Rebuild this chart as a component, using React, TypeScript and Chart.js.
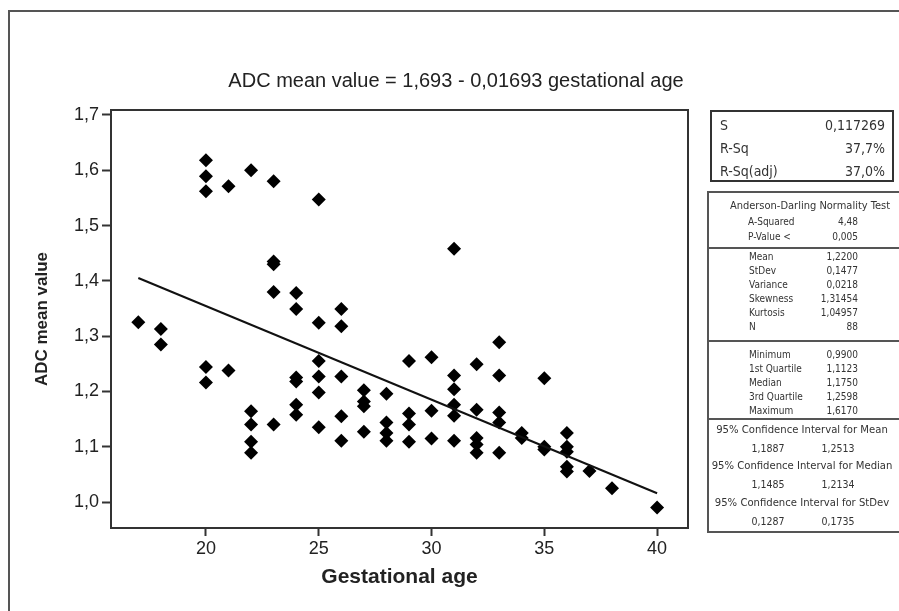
import React, { useEffect, useRef } from "react";
import { Chart, registerables } from "chart.js";

Chart.register(...registerables);

// ---- Data ----
const gestationalAge: number[] = [
  17,
  18, 18,
  20, 20, 20, 20, 20,
  21, 21,
  22, 22, 22, 22, 22,
  23, 23, 23, 23, 23,
  24, 24, 24, 24, 24, 24,
  25, 25, 25, 25, 25, 25,
  26, 26, 26, 26, 26,
  27, 27, 27, 27,
  28, 28, 28, 28,
  29, 29, 29, 29,
  30, 30, 30,
  31, 31, 31, 31, 31, 31,
  32, 32, 32, 32, 32,
  33, 33, 33, 33, 33,
  34, 34,
  35, 35, 35,
  36, 36, 36, 36, 36,
  37,
  38,
  40,
];

const adcMeanValue: number[] = [
  1.325,
  1.313, 1.285,
  1.618, 1.589, 1.562, 1.244, 1.216,
  1.571, 1.238,
  1.6, 1.164, 1.14, 1.109, 1.089,
  1.58, 1.435, 1.43, 1.38, 1.14,
  1.378, 1.349, 1.225, 1.218, 1.176, 1.158,
  1.547, 1.324, 1.255, 1.227, 1.198, 1.135,
  1.349, 1.318, 1.227, 1.155, 1.111,
  1.202, 1.182, 1.173, 1.127,
  1.196, 1.144, 1.125, 1.111,
  1.255, 1.16, 1.14, 1.109,
  1.262, 1.165, 1.115,
  1.458, 1.229, 1.204, 1.176, 1.156, 1.111,
  1.249, 1.167, 1.116, 1.104, 1.089,
  1.289, 1.229, 1.162, 1.144, 1.089,
  1.125, 1.116,
  1.224, 1.1, 1.095,
  1.125, 1.1, 1.091, 1.064, 1.055,
  1.056,
  1.025,
  0.99,
];

const fitIntercept = 1.693;
const fitSlope = -0.01693;
const fitAgeRange: number[] = [17, 40];

const xTickValues: number[] = [20, 25, 30, 35, 40];
const yTickValues: number[] = [1.0, 1.1, 1.2, 1.3, 1.4, 1.5, 1.6, 1.7];

const chartTitle = "ADC mean value = 1,693 - 0,01693 gestational age";
const xAxisTitle = "Gestational age";
const yAxisTitle = "ADC mean value";

const summaryRows: [string, string][] = [
  ["S", "0,117269"],
  ["R-Sq", "37,7%"],
  ["R-Sq(adj)", "37,0%"],
];

const adTestRows: [string, string][] = [
  ["A-Squared", "4,48"],
  ["P-Value <", "0,005"],
];
const statRows: [string, string][] = [
  ["Mean", "1,2200"],
  ["StDev", "0,1477"],
  ["Variance", "0,0218"],
  ["Skewness", "1,31454"],
  ["Kurtosis", "1,04957"],
  ["N", "88"],
];
const quantileRows: [string, string][] = [
  ["Minimum", "0,9900"],
  ["1st Quartile", "1,1123"],
  ["Median", "1,1750"],
  ["3rd Quartile", "1,2598"],
  ["Maximum", "1,6170"],
];
const ciRows: [string, string, string][] = [
  ["95% Confidence Interval for Mean", "1,1887", "1,2513"],
  ["95% Confidence Interval for Median", "1,1485", "1,2134"],
  ["95% Confidence Interval for StDev", "0,1287", "0,1735"],
];

const W = 899;
const H = 611;
const AREA = { left: 111, top: 110, right: 688, bottom: 528 };
const FONT = '"Liberation Sans", Arial, sans-serif';
const STAT_FONT = '"DejaVu Sans Condensed", "DejaVu Sans", Verdana, sans-serif';

const fmt = (v: number) => v.toFixed(1).replace(".", ",");

const framePlugin = {
  id: "frameAndTitle",
  afterDraw(chart: any) {
    const { ctx, chartArea } = chart;
    ctx.save();
    ctx.strokeStyle = "#333";
    ctx.lineWidth = 2;
    ctx.strokeRect(
      chartArea.left,
      chartArea.top,
      chartArea.right - chartArea.left,
      chartArea.bottom - chartArea.top
    );
    ctx.fillStyle = "#222";
    ctx.font = `20px ${FONT}`;
    ctx.textAlign = "center";
    ctx.textBaseline = "middle";
    ctx.fillText(chartTitle, 456, 81);
    ctx.restore();
  },
};

function ChartCanvas() {
  const ref = useRef<HTMLCanvasElement | null>(null);
  useEffect(() => {
    if (!ref.current) return;
    const points = gestationalAge.map((x, i) => ({ x, y: adcMeanValue[i] }));
    const fitLine = fitAgeRange.map((x) => ({ x, y: fitIntercept + fitSlope * x }));
    const chart = new Chart(ref.current, {
      type: "scatter",
      data: {
        datasets: [
          {
            type: "line",
            data: fitLine,
            borderColor: "#111",
            borderWidth: 2,
            pointRadius: 0,
            showLine: true,
            fill: false,
          } as any,
          {
            data: points,
            pointStyle: "rectRot",
            pointRadius: 7,
            backgroundColor: "#000",
            borderColor: "#000",
            borderWidth: 0,
          },
        ],
      },
      plugins: [framePlugin],
      options: {
        animation: false,
        responsive: false,
        events: [],
        layout: { padding: { left: 0, top: AREA.top, right: W - AREA.right, bottom: 0 } },
        plugins: { legend: { display: false }, tooltip: { enabled: false }, title: { display: false } },
        scales: {
          x: {
            type: "linear",
            min: 15.79,
            max: 41.37,
            afterFit: (s: any) => {
              s.height = H - AREA.bottom;
            },
            afterBuildTicks: (s: any) => {
              s.ticks = xTickValues.map((value) => ({ value }));
            },
            ticks: {
              font: { family: FONT, size: 18 },
              color: "#222",
              padding: 2,
              callback: (v: any) => String(v),
            },
            grid: { drawOnChartArea: false, drawTicks: true, tickLength: 8, tickColor: "#333", tickWidth: 2 },
            border: { display: true, color: "#333", width: 2 },
            title: {
              display: true,
              text: xAxisTitle,
              font: { family: FONT, size: 21, weight: "bold" },
              color: "#222",
              padding: { top: 0, bottom: 21 },
            },
          },
          y: {
            type: "linear",
            min: 0.953,
            max: 1.709,
            afterFit: (s: any) => {
              s.width = AREA.left;
            },
            afterBuildTicks: (s: any) => {
              s.ticks = yTickValues.map((value) => ({ value }));
            },
            ticks: {
              font: { family: FONT, size: 18 },
              color: "#222",
              padding: 3,
              callback: (v: any) => fmt(Number(v)),
            },
            grid: { drawOnChartArea: false, drawTicks: true, tickLength: 9, tickColor: "#333", tickWidth: 2 },
            border: { display: true, color: "#333", width: 2 },
            title: {
              display: true,
              text: yAxisTitle,
              font: { family: FONT, size: 17, weight: "bold" },
              color: "#222",
              padding: { top: 32, bottom: 0 },
            },
          },
        },
      },
    });
    return () => chart.destroy();
  }, []);
  return <canvas ref={ref} width={W} height={H} style={{ position: "absolute", left: 0, top: 0 }} />;
}

const abs = (s: React.CSSProperties): React.CSSProperties => ({ position: "absolute", ...s });

function StatText({ x, y, text, align, size }: { x: number; y: number; text: string; align: "left" | "right" | "center"; size: number }) {
  const style: React.CSSProperties = {
    position: "absolute",
    top: y - size * 0.6,
    fontSize: size,
    lineHeight: `${size * 1.2}px`,
    whiteSpace: "nowrap",
    fontFamily: STAT_FONT,
    color: "#333",
  };
  if (align === "left") style.left = x;
  else if (align === "right") style.right = W - x;
  else {
    style.left = x - 200;
    style.width = 400;
    style.textAlign = "center";
  }
  return <div style={style}>{text}</div>;
}

export default function App() {
  const statsY0 = 257;
  const quantY0 = 355;
  const ciY = [430, 466, 503];
  const small = 10;
  const big = 11.2;
  return (
    <div style={abs({ left: 0, top: 0, width: W, height: H, overflow: "hidden", background: "#fff" })}>
      {/* outer frame */}
      <div style={abs({ left: 8, top: 10, width: W, height: H, borderLeft: "2px solid #555", borderTop: "2px solid #555" })} />
      <ChartCanvas />
      {/* summary box */}
      <div style={abs({ left: 710, top: 110, width: 180, height: 68, border: "2px solid #333" })} />
      {summaryRows.map(([k, v], i) => (
        <React.Fragment key={k}>
          <StatText x={720} y={125 + i * 23} text={k} align="left" size={14} />
          <StatText x={885} y={125 + i * 23} text={v} align="right" size={14} />
        </React.Fragment>
      ))}
      {/* descriptive statistics box */}
      <div style={abs({ left: 707, top: 191, width: 230, height: 338, border: "2px solid #555" })} />
      <div style={abs({ left: 708, top: 247, width: 230, height: 0, borderTop: "2px solid #555" })} />
      <div style={abs({ left: 708, top: 340, width: 230, height: 0, borderTop: "2px solid #555" })} />
      <div style={abs({ left: 708, top: 418, width: 230, height: 0, borderTop: "2px solid #555" })} />
      <StatText x={810} y={206} text="Anderson-Darling Normality Test" align="center" size={11} />
      {adTestRows.map(([k, v], i) => (
        <React.Fragment key={k}>
          <StatText x={748} y={222 + i * 15} text={k} align="left" size={small} />
          <StatText x={858} y={222 + i * 15} text={v} align="right" size={small} />
        </React.Fragment>
      ))}
      {statRows.map(([k, v], i) => (
        <React.Fragment key={k}>
          <StatText x={749} y={statsY0 + i * 14} text={k} align="left" size={small} />
          <StatText x={858} y={statsY0 + i * 14} text={v} align="right" size={small} />
        </React.Fragment>
      ))}
      {quantileRows.map(([k, v], i) => (
        <React.Fragment key={k}>
          <StatText x={749} y={quantY0 + i * 14} text={k} align="left" size={small} />
          <StatText x={858} y={quantY0 + i * 14} text={v} align="right" size={small} />
        </React.Fragment>
      ))}
      {ciRows.map(([k, a, b], i) => (
        <React.Fragment key={k}>
          <StatText x={802} y={ciY[i]} text={k} align="center" size={big} />
          <StatText x={768} y={ciY[i] + 18} text={a} align="center" size={small + 0.5} />
          <StatText x={838} y={ciY[i] + 18} text={b} align="center" size={small + 0.5} />
        </React.Fragment>
      ))}
    </div>
  );
}
